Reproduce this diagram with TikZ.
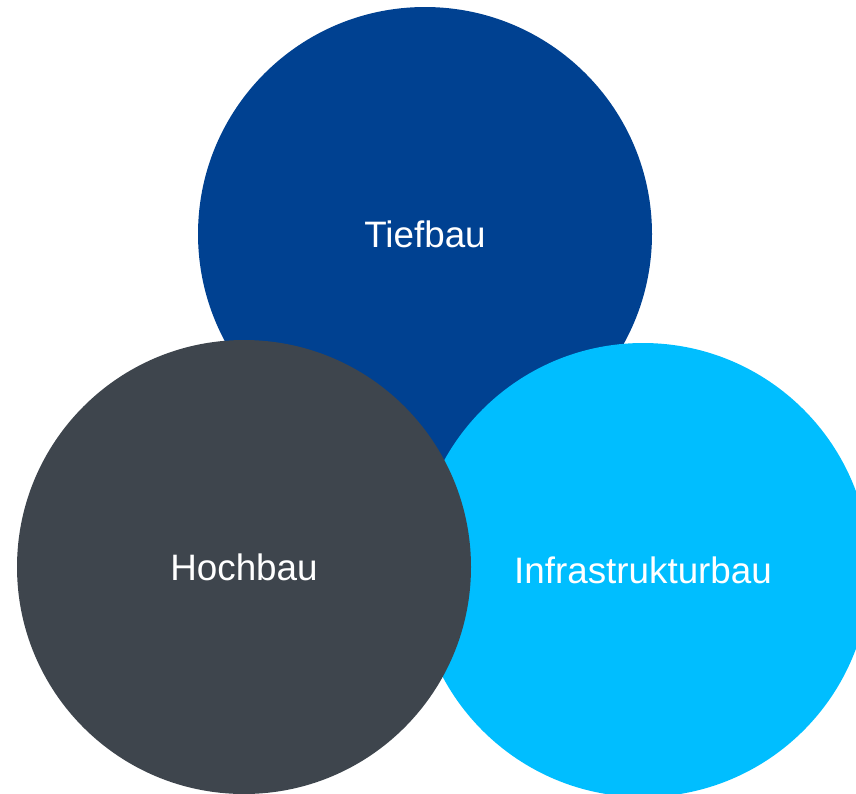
\documentclass[tikz,border=0pt]{standalone}
\usepackage{fontspec}
\setmainfont{Liberation Sans}
\usetikzlibrary{shapes}

\definecolor{tiefblau}{RGB}{0,65,145}
\definecolor{hochgrau}{RGB}{62,69,77}
\definecolor{infrablau}{RGB}{0,190,255}

\begin{document}
\begin{tikzpicture}[x=1pt,y=-1pt,
area/.style={
circle,
minimum size=454pt,
inner sep=0pt,
text=white,
font=\fontsize{36.8}{44}\selectfont
}]
\useasboundingbox (0,0) rectangle (856,793);
\clip (0,0) rectangle (856,793);
\node (tiefbau) [area,fill=tiefblau] at (425,234) {Tiefbau};
\node (infra) [area,fill=infrablau] at (643,570) {Infrastrukturbau};
\node (hochbau) [area,fill=hochgrau] at (244,567) {Hochbau};
\end{tikzpicture}
\end{document}
